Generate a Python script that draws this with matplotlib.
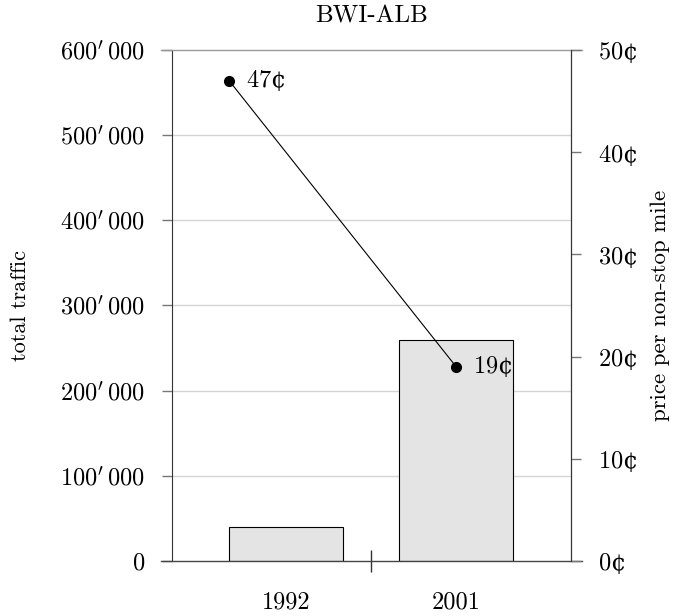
import matplotlib
matplotlib.use("Agg")
import matplotlib.pyplot as plt
import numpy as np

# data
years = ["1992", "2001"]
traffic = [40000, 260000]
price = [47, 19]            # cents per non-stop mile
price_offset = [-0.335, 0.0]  # where the dot sits relative to the bar centre
yticks_left = [0, 100000, 200000, 300000, 400000, 500000, 600000]
yticks_right = [0, 10, 20, 30, 40, 50]

plt.rcParams['font.family'] = ['cmr10', 'DejaVu Serif']
plt.rcParams['mathtext.fontset'] = 'cm'
plt.rcParams['axes.formatter.use_mathtext'] = True
plt.rcParams['font.size'] = 15
tick_fs = 17.5

fig = plt.figure(figsize=(6.8, 6.16), dpi=100)
ax = fig.add_axes([0.253, 0.0893, 0.587, 0.8297])

x = np.arange(len(years))
ax.bar(x, traffic, width=0.67, color="#e3e4e3", edgecolor="black", linewidth=0.8, zorder=2)
ax.set_xlim(-0.67, 1.676)
ax.set_ylim(0, 600000)

# gridlines
for v in yticks_left[1:-1]:
    ax.axhline(v, color="#d4d4d4", linewidth=1.0, zorder=0)

def fmt_thousands(v):
    if v == 0:
        return r"$0$"
    return r"$%d^{\prime}\,%03d$" % (v // 1000, v % 1000)

ax.set_yticks(yticks_left)
ax.set_yticklabels([fmt_thousands(v) for v in yticks_left], fontsize=tick_fs)
ax.tick_params(axis="y", direction="out", length=7.5, width=1.0, color="#777777", pad=12)

# x axis: one separator tick, labels under each bar
ax.set_xticks([0.5])
ax.set_xticklabels([""])
ax.tick_params(axis="x", which="major", direction="inout", length=16, width=1.0, color="#333333")
ax.set_xticks(x, minor=True)
ax.set_xticklabels(years, minor=True, fontsize=tick_fs)
ax.tick_params(axis="x", which="minor", length=0, pad=22)

for s in ["top", "bottom"]:
    ax.spines[s].set_visible(False)
ax.spines["left"].set_color("#333333")
ax.spines["right"].set_color("#333333")
ax.axhline(0, xmin=-0.028, xmax=1.028, color="#444444", linewidth=1.0, clip_on=False, zorder=3)
ax.axhline(600000, xmin=-0.028, xmax=1.028, color="#999999", linewidth=1.0, clip_on=False, zorder=3)

ax.set_ylabel("total traffic", labelpad=22, fontsize=16)
ax.set_title("BWI-ALB", pad=20)

# price on the right axis
ax2 = ax.twinx()
ax2.set_ylim(0, 50)
ax2.set_yticks(yticks_right)
ax2.set_yticklabels([r"$%d$" % v + "\u00a2" for v in yticks_right],
                    fontfamily="DejaVu Serif", fontsize=tick_fs)
ax2.tick_params(axis="y", direction="out", length=7.5, width=1.0, color="#777777", pad=12)
for s in ["top", "bottom", "left"]:
    ax2.spines[s].set_visible(False)
ax2.spines["right"].set_color("#333333")
ax2.set_ylabel("price per non-stop mile", labelpad=9, fontsize=16.5)

px = x + np.array(price_offset)
ax2.plot(px, price, color="black", linewidth=0.8, marker="o", markersize=7, zorder=4)
for xi, p in zip(px, price):
    ax2.annotate(r"$%d$" % p + "\u00a2", (xi, p), xytext=(12, 0), textcoords="offset points",
                 va="center", ha="left", fontfamily="DejaVu Serif", fontsize=tick_fs)

fig.savefig("out.png", dpi=100)
